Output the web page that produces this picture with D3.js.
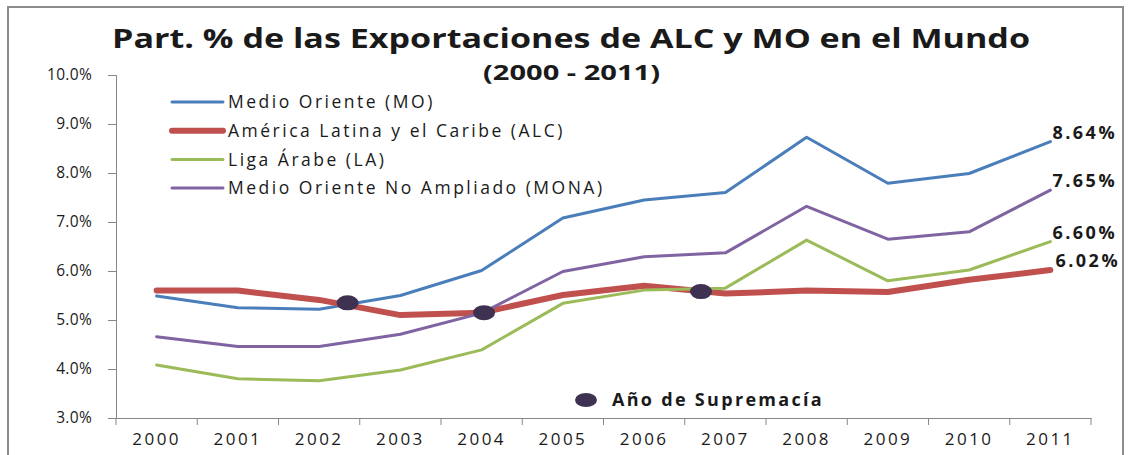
<!DOCTYPE html>
<html>
<head>
<meta charset="utf-8">
<script src="https://cdn.jsdelivr.net/npm/d3@7"></script>
<style>
  body { margin: 0; background: #fff; }
  text { font-family: "Open Sans", "DejaVu Sans", sans-serif; fill: #1a1a1a; }
</style>
</head>
<body>
<svg id="chart"></svg>
<script>
let width = 1136;
let height = 455;

// datos (% de las exportaciones mundiales)
const years = ["2000", "2001", "2002", "2003", "2004", "2005", "2006", "2007", "2008", "2009", "2010", "2011"];
const moValues   = [5.49, 5.25, 5.22, 5.50, 6.01, 7.08, 7.45, 7.60, 8.73, 7.79, 7.99, 8.64];
const alcValues  = [5.60, 5.60, 5.41, 5.10, 5.15, 5.51, 5.70, 5.54, 5.60, 5.57, 5.82, 6.02];
const laValues   = [4.08, 3.80, 3.76, 3.98, 4.39, 5.34, 5.61, 5.65, 6.63, 5.80, 6.02, 6.60];
const monaValues = [4.66, 4.46, 4.46, 4.71, 5.14, 5.99, 6.29, 6.37, 7.32, 6.65, 6.80, 7.65];
const seriesNames = ["Medio Oriente (MO)", "América Latina y el Caribe (ALC)", "Liga Árabe (LA)", "Medio Oriente No Ampliado (MONA)"];
const endLabels = ["8.64%", "6.02%", "6.60%", "7.65%"];
// puntos "Año de Supremacía" (año fraccionario, valor)
const supremaciaYears  = [2002.35, 2004.03, 2006.7];
const supremaciaValues = [5.35, 5.15, 5.58];
const yTicks = [3, 4, 5, 6, 7, 8, 9, 10];

const colors = ["#4A7EBB", "#C0504D", "#9BBB59", "#8064A2"];
const widths = [3, 6, 3, 3];

let margin = {top: 75, right: 45, bottom: 37, left: 116};

let svg = d3.select("#chart")
    .attr("width", width)
    .attr("height", height);

// marco del grafico
svg.append("rect")
    .attr("x", 8).attr("y", 7)
    .attr("width", 1115).attr("height", 470)
    .attr("fill", "none")
    .attr("stroke", "#8c8c8c")
    .attr("stroke-width", 2);

let x = d3.scaleBand()
    .domain(years)
    .range([margin.left, width - margin.right]);

let xPos = d3.scaleLinear()
    .domain([2000, 2011])
    .range([x("2000") + x.bandwidth() / 2, x("2011") + x.bandwidth() / 2]);

let y = d3.scaleLinear()
    .domain([3, 10])
    .range([height - margin.bottom, margin.top]);

// eje Y
let yAxis = d3.axisLeft(y)
    .tickValues(yTicks)
    .tickSize(8)
    .tickPadding(16)
    .tickFormat(d => d3.format(".1f")(d) + "%");

let gy = svg.append("g")
    .attr("transform", `translate(${margin.left}, 0)`)
    .call(yAxis);
gy.select(".domain").attr("stroke", "#868686");
gy.selectAll(".tick line").attr("stroke", "#868686");
gy.selectAll(".tick text")
    .attr("font-size", 15.5)
    .attr("font-family", "Open Sans")
    .attr("letter-spacing", 0.3)
    .attr("fill", "#1a1a1a");

// eje X
let xAxis = d3.axisBottom(x)
    .tickSize(0)
    .tickPadding(15);

let gx = svg.append("g")
    .attr("transform", `translate(0, ${y(3)})`)
    .call(xAxis);
gx.select(".domain").attr("stroke", "#868686");
gx.selectAll(".tick text")
    .attr("font-size", 17)
    .attr("font-family", "Open Sans")
    .attr("letter-spacing", 2.5)
    .attr("fill", "#1a1a1a");

// marcas entre categorias
gx.selectAll("line.sep")
    .data(years.concat(["end"]))
    .enter().append("line")
    .attr("class", "sep")
    .attr("x1", (d, i) => margin.left + i * x.step())
    .attr("x2", (d, i) => margin.left + i * x.step())
    .attr("y1", 0)
    .attr("y2", 7)
    .attr("stroke", "#868686");

// lineas
const allValues = [moValues, alcValues, laValues, monaValues];
let line = d3.line()
    .x((d, i) => x(years[i]) + x.bandwidth() / 2)
    .y(d => y(d));

svg.selectAll("path.serie")
    .data(allValues)
    .enter().append("path")
    .attr("class", "serie")
    .attr("d", line)
    .attr("fill", "none")
    .attr("stroke", (d, i) => colors[i])
    .attr("stroke-width", (d, i) => widths[i])
    .attr("stroke-linejoin", "round")
    .attr("stroke-linecap", "round");

// etiquetas del ultimo valor
svg.selectAll("text.endlabel")
    .data(allValues)
    .enter().append("text")
    .attr("class", "endlabel")
    .attr("x", (d, i) => xPos(2011) + (i == 1 ? 5 : 2))
    .attr("y", d => y(d[d.length - 1]) - 3)
    .attr("font-size", 18)
    .attr("font-weight", "bold")
    .attr("letter-spacing", 2.5)
    .text((d, i) => endLabels[i]);

// puntos de supremacia
svg.selectAll("ellipse.sup")
    .data(supremaciaYears)
    .enter().append("ellipse")
    .attr("class", "sup")
    .attr("cx", d => xPos(d))
    .attr("cy", (d, i) => y(supremaciaValues[i]))
    .attr("rx", 11)
    .attr("ry", 7.5)
    .attr("fill", "#3F3151");

// leyenda
let legend = svg.append("g");
legend.selectAll("line")
    .data(seriesNames)
    .enter().append("line")
    .attr("x1", 172).attr("x2", 223)
    .attr("y1", (d, i) => 102 + i * 28.7)
    .attr("y2", (d, i) => 102 + i * 28.7)
    .attr("stroke", (d, i) => colors[i])
    .attr("stroke-width", (d, i) => widths[i])
    .attr("stroke-linecap", "round");
legend.selectAll("text")
    .data(seriesNames)
    .enter().append("text")
    .attr("x", 228)
    .attr("y", (d, i) => 102 + i * 28.7)
    .attr("dy", "0.35em")
    .attr("font-size", 17.5)
    .attr("letter-spacing", 2.5)
    .text(d => d);

// leyenda de supremacia
svg.append("ellipse")
    .attr("cx", 586).attr("cy", 400)
    .attr("rx", 11).attr("ry", 7)
    .attr("fill", "#3F3151");
svg.append("text")
    .attr("x", 612).attr("y", 400)
    .attr("dy", "0.35em")
    .attr("font-size", 18)
    .attr("font-weight", "bold")
    .attr("letter-spacing", 2.3)
    .text("Año de Supremacía");

// titulo
svg.append("text")
    .attr("x", 112).attr("y", 48)
    .attr("font-size", 26)
    .attr("font-weight", "bold")
    .attr("textLength", 918)
    .attr("lengthAdjust", "spacingAndGlyphs")
    .text("Part. % de las Exportaciones de ALC y MO en el Mundo");
svg.append("text")
    .attr("x", 483).attr("y", 80)
    .attr("font-size", 22)
    .attr("font-weight", "bold")
    .attr("textLength", 177)
    .attr("lengthAdjust", "spacingAndGlyphs")
    .text("(2000 - 2011)");
</script>
</body>
</html>
